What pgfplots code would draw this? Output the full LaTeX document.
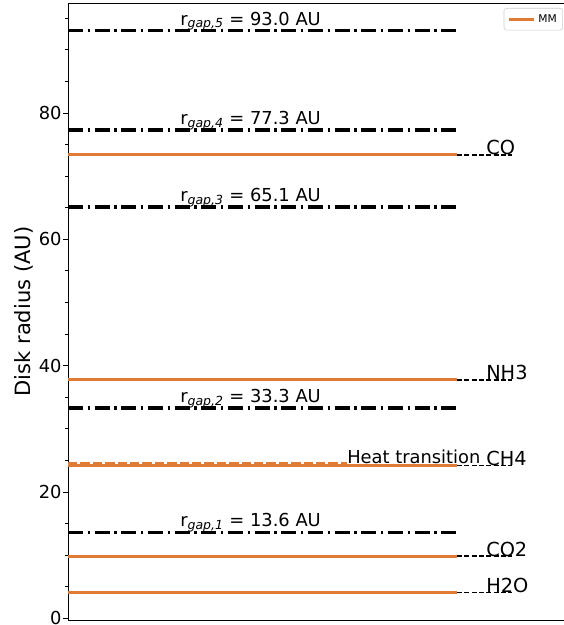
\documentclass[border=0pt]{standalone}
\usepackage{pgfplots}
\pgfplotsset{compat=1.18}
\usepackage{fontspec}
\setmainfont{DejaVu Sans}
\definecolor{mmorange}{HTML}{E07B35}
\tikzset{
  gapline/.style={black, line width=2.4pt, dash pattern=on 11.3pt off 3.4pt on 1.9pt off 3.4pt},
  mmline/.style={mmorange, line width=2.25pt},
  shortdash/.style={black, line width=1.1pt, dash pattern=on 3.8pt off 1.7pt},
}
\begin{document}
\begin{tikzpicture}
\begin{axis}[name=ax, scale only axis, width=372pt, height=462.75pt,
  xmin=68, xmax=564, ymin=-0.27, ymax=97.4,
  xtick=\empty,
  ytick={0,20,40,60,80}, minor ytick={5,10,15,25,30,35,45,50,55,65,70,75,85,90,95},
  tick align=outside, ytick pos=left,
  major tick length=3.6pt, minor tick length=2.2pt,
  every tick/.style={black, line width=0.6pt},
  yticklabel style={font=\fontsize{13.4}{16}\selectfont, inner sep=1pt},
  /pgf/number format/assume math mode=true,
  ylabel={Disk radius (AU)},
  ylabel style={font=\fontsize{15.8}{18}\selectfont, at={(axis description cs:-0.0887,0.5)}, anchor=center},
  axis line style={line width=0.6pt},
  clip=false,
  legend style={at={(rel axis cs:1,1)}, anchor=north east, xshift=-0.75pt, yshift=-3.75pt,
    font=\fontsize{8}{9}\selectfont, draw=black!20, rounded corners=2pt,
    inner xsep=2.5pt, inner ysep=2.5pt},
  legend image code/.code={\draw[#1] (0pt,0pt) -- (19pt,0pt);},
]
% gap lines
\addplot[gapline, forget plot] coordinates {(68,93.0) (457,93.0)};
\addplot[gapline, forget plot] coordinates {(68,77.3) (457,77.3)};
\addplot[gapline, forget plot] coordinates {(68,65.1) (457,65.1)};
\addplot[gapline, forget plot] coordinates {(68,33.3) (457,33.3)};
\addplot[gapline, forget plot] coordinates {(68,13.6) (457,13.6)};
% ice lines (MM)
\addplot[mmline] coordinates {(68,73.35) (457,73.35)};
\addlegendentry{MM}
\addplot[mmline, forget plot] coordinates {(68,37.75) (457,37.75)};
\addplot[mmline, forget plot] coordinates {(68,24.2) (457,24.2)};
\addplot[mmline, forget plot] coordinates {(68,9.86) (457,9.86)};
\addplot[mmline, forget plot] coordinates {(68,4.05) (457,4.05)};
% heat transition
\addplot[mmorange, line width=2.25pt, dash pattern=on 7pt off 2.3pt, forget plot] coordinates {(68,24.5) (347,24.5)};
% short dashed connectors
\addplot[shortdash, forget plot] coordinates {(457,73.35) (512,73.35)};
\addplot[shortdash, forget plot] coordinates {(457,37.75) (512,37.75)};
\addplot[shortdash, forget plot] coordinates {(457,24.2) (512,24.2)};
\addplot[shortdash, forget plot] coordinates {(457,9.86) (512,9.86)};
\addplot[shortdash, forget plot] coordinates {(457,4.05) (512,4.05)};
% labels
\begin{scope}[every node/.style={anchor=base west, inner sep=0pt, font=\fontsize{14.5}{17}\selectfont}]
\node at (axis cs:486,73.35) {CO};
\node at (axis cs:486,37.75) {NH3};
\node at (axis cs:486,24.2) {CH4};
\node at (axis cs:486,9.86) {CO2};
\node at (axis cs:486,4.05) {H2O};
\end{scope}
\begin{scope}[every node/.style={anchor=base west, inner sep=0pt, font=\fontsize{13.4}{16}\selectfont}]
\node at (axis cs:347,24.45) {Heat transition};
\node at (axis cs:180,93.9) {r\textsubscript{\itshape gap,5} = 93.0 AU};
\node at (axis cs:180,78.2) {r\textsubscript{\itshape gap,4} = 77.3 AU};
\node at (axis cs:180,66.0) {r\textsubscript{\itshape gap,3} = 65.1 AU};
\node at (axis cs:180,34.2) {r\textsubscript{\itshape gap,2} = 33.3 AU};
\node at (axis cs:180,14.5) {r\textsubscript{\itshape gap,1} = 13.6 AU};
\end{scope}
\end{axis}
\path (ax.south west) ++(-51pt,-3.75pt) coordinate (bl);
\path (ax.north east) ++(0pt,2.25pt) coordinate (tr);
\pgfresetboundingbox
\useasboundingbox (bl) rectangle (tr);
\end{tikzpicture}
\end{document}
